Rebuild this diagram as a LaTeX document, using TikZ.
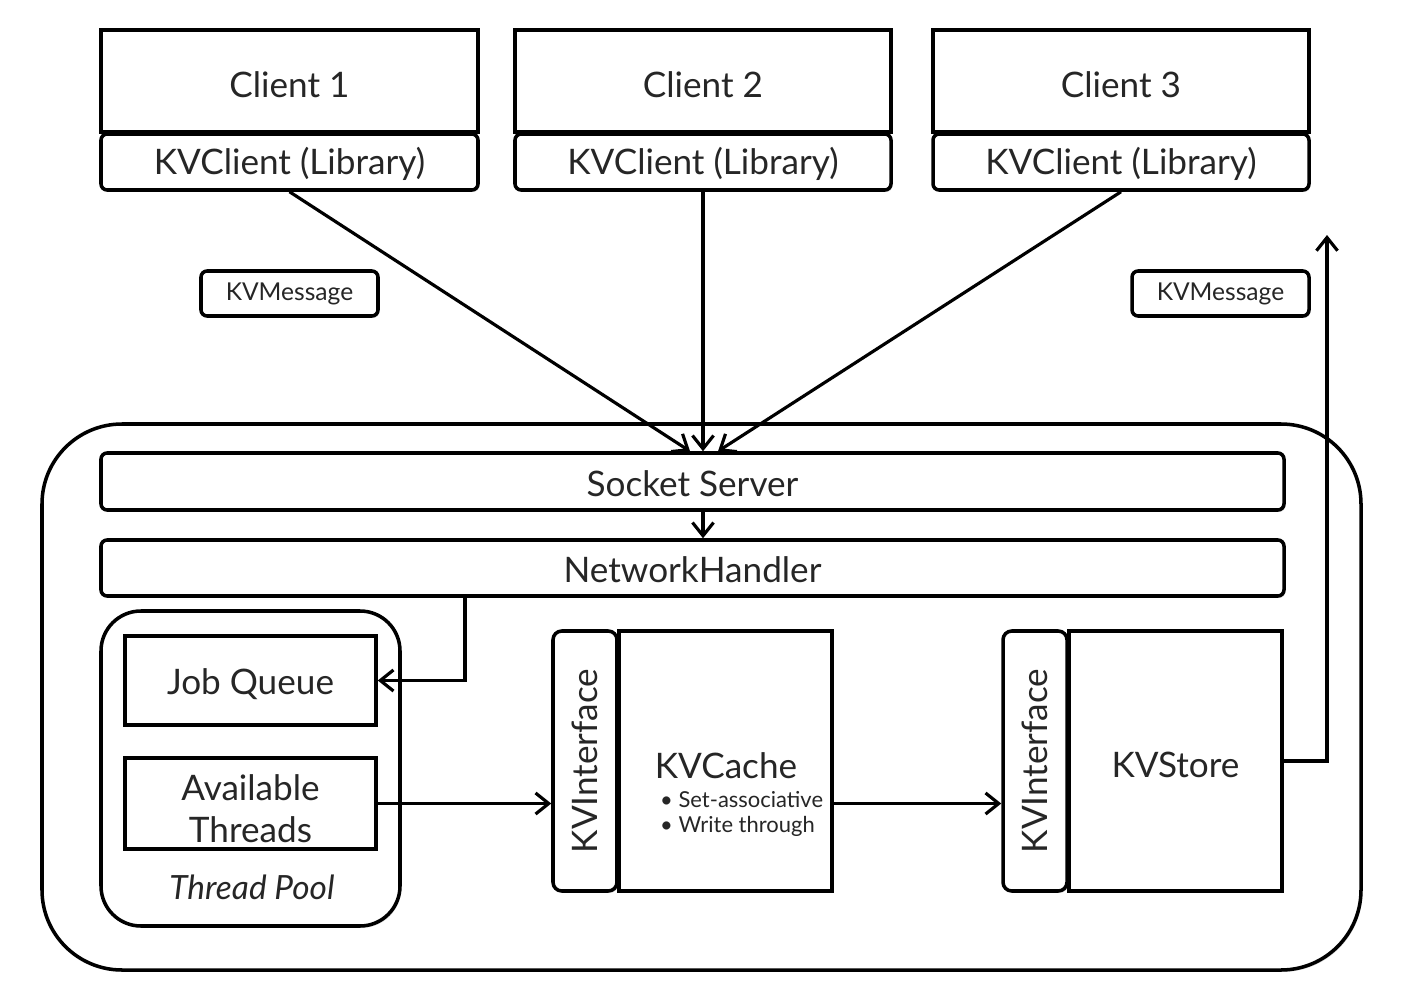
\documentclass[tikz,border=0pt]{standalone}
\usepackage{fontspec}
\setmainfont{Lato}
\usetikzlibrary{fit,arrows.meta,shadows}
\begin{document}
\begin{tikzpicture}[x=0.02cm,y=-0.02cm,
  txt/.style={text=black!85},
  box/.style={draw, line width=2pt, fill=white, inner sep=0pt,
    drop shadow={shadow xshift=0.8pt,shadow yshift=-1.1pt,opacity=0.3}},
  rbox/.style={box, rounded corners=3.5pt},
  big/.style={txt,font=\fontsize{20}{24}\selectfont,yshift=-2pt},
  small/.style={txt,font=\fontsize{14}{17}\selectfont},
  conn/.style={line width=1.8pt, -{Straight Barb[length=7.5pt,width=12pt]}}
]
\useasboundingbox (0,0) rectangle (1414,990);

% clients
\node[box,fit={(101,30) (478,132)},label={[big]center:Client 1}] (c1) {};
\node[rbox,fit={(101,134) (478,190)},label={[big,yshift=1pt]center:KVClient (Library)}] (k1) {};
\node[box,fit={(515,30) (891,132)},label={[big]center:Client 2}] (c2) {};
\node[rbox,fit={(515,134) (891,190)},label={[big,yshift=1pt]center:KVClient (Library)}] (k2) {};
\node[box,fit={(933,30) (1309,132)},label={[big]center:Client 3}] (c3) {};
\node[rbox,fit={(933,134) (1309,190)},label={[big,yshift=1pt]center:KVClient (Library)}] (k3) {};

\node[rbox,fit={(201,271) (378,316)},label={[small]center:KVMessage}] (m1) {};
\node[rbox,fit={(1132,271) (1309,316)},label={[small]center:KVMessage}] (m2) {};

% server
\node[box,rounded corners=1.6cm,fit={(42,424) (1361,970)}] (server) {};
\node[rbox,fit={(101,453) (1284,510)},label={[big,yshift=1pt]center:Socket Server}] (ss) {};
\node[rbox,fit={(101,540) (1284,596)},label={[big,yshift=1pt]center:NetworkHandler}] (nh) {};

% thread pool
\node[box,rounded corners=0.8cm,fit={(101,611) (400,926)}] (tp) {};
\node[box,fit={(125,636) (376,725)},label={[big]center:Job Queue}] (jq) {};
\node[box,fit={(125,758) (376,849)},
  label={[big,align=center,yshift=-1pt]center:Available\\[0pt]Threads}] (at) {};
\node[txt,font=\fontsize{19}{23}\selectfont\itshape] (tpl) at (252,887) {Thread Pool};

% cache
\node[box,rounded corners=5pt,fit={(553,631) (617,891)},
  label={[txt,font=\fontsize{20}{24}\selectfont,rotate=90]center:KVInterface}] (if1) {};
\node[box,fit={(619,631) (832,891)}] (cache) {};
\node[txt,font=\fontsize{20}{24}\selectfont] (cachet) at (726,766) {KVCache};
\node[txt,font=\fontsize{12.5}{15}\selectfont,anchor=west,align=left] (cacheb) at (654,814)
  {\textbullet\ Set-associative\\[-1pt]\textbullet\ Write through};

% store
\node[box,rounded corners=5pt,fit={(1003,631) (1067,891)},
  label={[txt,font=\fontsize{20}{24}\selectfont,rotate=90]center:KVInterface}] (if2) {};
\node[box,fit={(1069,631) (1282,891)},label={[big]center:KVStore}] (store) {};

\coordinate (out) at (1327,235);

% connectors
\draw[conn] (k1.south) -- ([xshift=-0.05cm]ss.north);
\draw[conn] (k2.south) -- (k2.south |- ss.north);
\draw[conn] (k3.south) -- ([xshift=0.51cm]ss.north);
\draw[conn] ([xshift=0.21cm]ss.south) -- ([xshift=0.21cm]nh.north);
\draw[conn] ([xshift=-4.55cm]nh.south) |- (jq.east);
\draw[conn] (at.east) -- (at.east -| if1.west);
\draw[conn] (at.east -| cache.east) -- (at.east -| if2.west);
\draw[conn] (store.east) -| (out);
\end{tikzpicture}
\end{document}
